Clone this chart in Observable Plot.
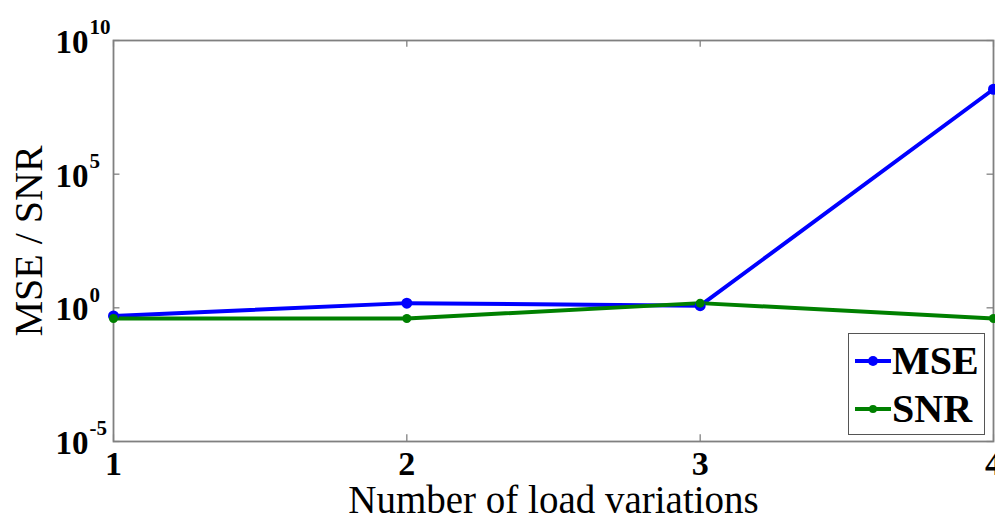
<!DOCTYPE html>
<html>
<head>
<meta charset="utf-8">
<script src="https://cdn.jsdelivr.net/npm/d3@7"></script>
<script src="https://cdn.jsdelivr.net/npm/@observablehq/plot@0.6"></script>
<style>
  html, body { margin: 0; padding: 0; background: #fff; }
  #wrap { position: relative; width: 995px; height: 518px; overflow: hidden; }
  #legend { position: absolute; left: 848px; top: 333px; width: 137px; height: 102px;
    border: 1.5px solid #555; background: #fff; box-sizing: border-box;
    font-family: "Liberation Serif", "Times New Roman", serif; font-weight: bold; font-size: 40px; color: #000; }
  .row { position: absolute; left: 6px; display: flex; align-items: center; }
  .row svg { margin-right: 1px; }
</style>
</head>
<body>
<div id="wrap"></div>
<script>
const xValues = [1, 2, 3, 4];
const mseValues = [0.5, 1.5, 1.2, 1.5e8];
const snrValues = [0.4, 0.4, 1.5, 0.4];
const yTicks = [1e-5, 1, 1e5, 1e10];
const yTickExponents = ["-5", "0", "5", "10"];
const xTicks = [1, 2, 3, 4];
const seriesNames = ["MSE", "SNR"];
const seriesColors = ["#0000ff", "#008000"];

const mse = xValues.map((x, i) => ({x, y: mseValues[i], s: "MSE"}));
const snr = xValues.map((x, i) => ({x, y: snrValues[i], s: "SNR"}));
const yt = yTicks.map((v, i) => ({v, e: yTickExponents[i]}));
const serif = "'Liberation Serif', 'Times New Roman', serif";

const chart = Plot.plot({
  width: 995,
  height: 518,
  marginLeft: 113,
  marginRight: 2,
  marginTop: 40,
  marginBottom: 77,
  style: {fontFamily: serif, background: "white", overflow: "visible"},
  x: {domain: [1, 4], axis: null},
  y: {type: "log", domain: [1e-5, 1e10], axis: null},
  marks: [
    // inward ticks left/right
    Plot.ruleY(yTicks, {y: d => d, x1: 1, x2: 1.022, stroke: "#777", strokeWidth: 1.2}),
    Plot.ruleY(yTicks, {y: d => d, x1: 3.978, x2: 4, stroke: "#777", strokeWidth: 1.2}),
    // inward ticks bottom/top
    Plot.ruleX(xTicks, {x: d => d, y1: 1e-5, y2: 10 ** -4.75, stroke: "#777", strokeWidth: 1.2}),
    Plot.ruleX(xTicks, {x: d => d, y1: 10 ** 9.75, y2: 1e10, stroke: "#777", strokeWidth: 1.2}),
    Plot.frame({stroke: "#808080", strokeWidth: 1.8}),
    Plot.line(mse, {x: "x", y: "y", stroke: seriesColors[0], strokeWidth: 4}),
    Plot.line(snr, {x: "x", y: "y", stroke: seriesColors[1], strokeWidth: 4}),
    Plot.dot(mse, {x: "x", y: "y", fill: seriesColors[0], r: 5.5}),
    Plot.dot(snr, {x: "x", y: "y", fill: seriesColors[1], r: 4.5}),
    // y tick labels
    Plot.text(yt, {y: "v", text: () => "10", frameAnchor: "left", dx: -58, textAnchor: "start",
      fontSize: 33, fontWeight: "bold", fontFamily: serif, fill: "#000", dy: 2}),
    Plot.text(yt, {y: "v", text: "e", frameAnchor: "left", dx: -24, textAnchor: "start",
      fontSize: 21, fontWeight: "bold", fontFamily: serif, fill: "#000", dy: -13}),
    // x tick labels
    Plot.text(xTicks, {x: d => d, text: d => String(d), frameAnchor: "bottom", lineAnchor: "middle", dy: 23,
      fontSize: 34, fontWeight: "bold", fontFamily: serif, fill: "#000"}),
    // axis labels
    Plot.text(["Number of load variations"], {frameAnchor: "bottom", lineAnchor: "middle", dy: 59, text: d => d,
      fontSize: 39, fontFamily: serif, fill: "#000"}),
    Plot.text(["MSE / SNR"], {frameAnchor: "left", textAnchor: "middle", dx: -84, rotate: -90, text: d => d,
      fontSize: 40, fontFamily: serif, fill: "#000"})
  ]
});
document.getElementById("wrap").appendChild(chart);

// legend
const legend = document.createElement("div");
legend.id = "legend";
seriesNames.forEach((name, i) => {
  const row = document.createElement("div");
  row.className = "row";
  row.style.top = (i === 0 ? 3 : 51) + "px";
  const r = i === 0 ? 5 : 4;
  row.innerHTML = `<svg width="36" height="44"><line x1="0" x2="36" y1="22" y2="22" stroke="${seriesColors[i]}" stroke-width="4"/><circle cx="18" cy="22" r="${r}" fill="${seriesColors[i]}"/></svg><span>${name}</span>`;
  legend.appendChild(row);
});
document.getElementById("wrap").appendChild(legend);
</script>
</body>
</html>
